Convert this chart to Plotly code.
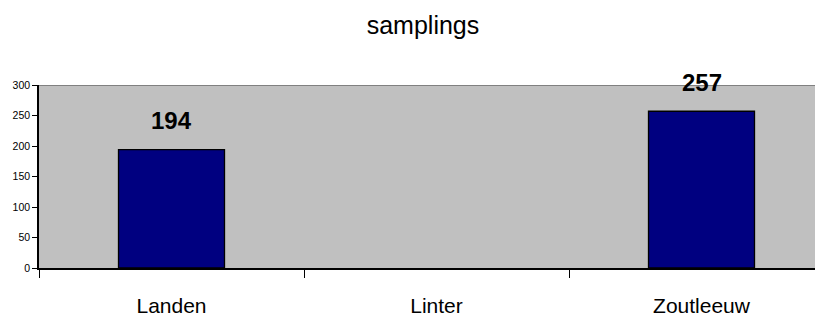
import plotly.graph_objects as go

categories = ["Landen", "Linter", "Zoutleeuw"]
values = [194, None, 257]
y_ticks = [0, 50, 100, 150, 200, 250, 300]
title_text = "samplings"

# page body has an 8px default margin; size the figure to fit the window
W, H = 815, 311
ml, mr, mt, mb = 31, 0, 77, 51
cat_px = 265
plot_w = W - ml - mr
x_range = [-0.5, -0.5 + plot_w / cat_px]
y_range = [0, 300]

font = "Liberation Sans, Arial, sans-serif"

fig = go.Figure()
fig.add_trace(go.Bar(
    x=categories, y=values,
    marker=dict(color="#000080", line=dict(color="#000000", width=1.3)),
    width=0.4,
    hoverinfo="skip",
))

for c, v in zip(categories, values):
    if v is not None:
        fig.add_annotation(x=c, y=v, text=str(v), showarrow=False,
                           yshift=29, yanchor="middle", xanchor="center",
                           font=dict(family=font, size=24, color="#000000", weight="bold"))

fig.add_shape(type="line", xref="paper", yref="y", x0=0, x1=1,
              y0=y_range[1], y1=y_range[1], line=dict(color="#808080", width=2), layer="above")

fig.update_layout(
    width=W, height=H,
    margin=dict(l=ml, r=mr, t=mt, b=mb),
    paper_bgcolor="#FFFFFF",
    plot_bgcolor="#C0C0C0",
    showlegend=False,
    title=dict(text=title_text, x=415 / W, xanchor="center", xref="container",
               y=1 - 17 / H, yanchor="middle",
               font=dict(family=font, size=25, color="#000000")),
    xaxis=dict(range=x_range, type="category", tickson="boundaries", ticks="outside",
               ticklen=8, tickcolor="#000000", tickwidth=1,
               showline=True, linecolor="#000000", linewidth=1.5,
               showgrid=False, zeroline=False, ticklabelstandoff=18,
               tickfont=dict(family=font, size=21, color="#000000")),
    yaxis=dict(range=y_range, tickvals=y_ticks, ticks="outside", ticklen=5,
               tickcolor="#000000", tickwidth=1,
               showline=True, linecolor="#000000", linewidth=1.5,
               showgrid=False, zeroline=False,
               tickfont=dict(family=font, size=10.5, color="#000000")),
)

fig.write_html("out.html")
